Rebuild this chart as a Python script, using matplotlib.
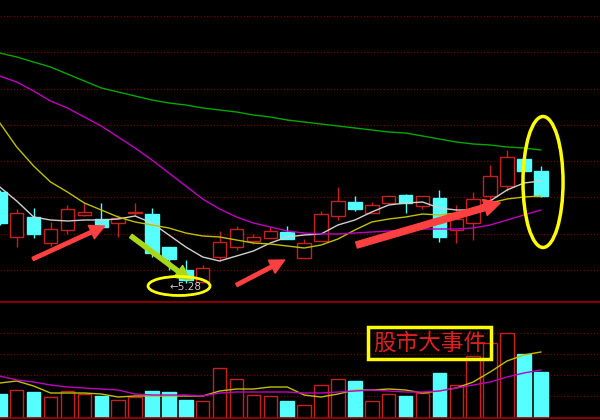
import numpy as np
import matplotlib.pyplot as plt
from matplotlib.patches import Ellipse

# daily K-line, 33 sessions
opens = [5.735, 5.51, 5.61, 5.48, 5.545, 5.62, 5.60, 5.58, 5.63, 5.625, 5.46,
         5.345, 5.285, 5.41, 5.46, 5.49, 5.505, 5.535, 5.405, 5.49, 5.615, 5.685,
         5.63, 5.68, 5.72, 5.665, 5.705, 5.545, 5.58, 5.715, 5.765, 5.90, 5.84]
closes = [5.58, 5.63, 5.525, 5.55, 5.65, 5.635, 5.56, 5.605, 5.635, 5.43, 5.40,
          5.295, 5.355, 5.485, 5.55, 5.51, 5.54, 5.50, 5.48, 5.625, 5.69, 5.65,
          5.67, 5.715, 5.68, 5.715, 5.51, 5.60, 5.70, 5.815, 5.91, 5.84, 5.715]
highs = [5.745, 5.65, 5.655, 5.585, 5.67, 5.68, 5.68, 5.62, 5.68, 5.655, 5.46,
         5.395, 5.37, 5.54, 5.565, 5.525, 5.56, 5.565, 5.50, 5.64, 5.76, 5.715,
         5.685, 5.72, 5.725, 5.715, 5.745, 5.67, 5.735, 5.87, 5.945, 5.90, 5.865]
lows = [5.57, 5.46, 5.505, 5.465, 5.525, 5.615, 5.56, 5.51, 5.615, 5.41, 5.345,
        5.28, 5.285, 5.39, 5.445, 5.475, 5.505, 5.50, 5.405, 5.49, 5.595, 5.64,
        5.63, 5.68, 5.63, 5.65, 5.485, 5.48, 5.495, 5.685, 5.74, 5.84, 5.71]

ma5 = [5.76, 5.69, 5.61, 5.595, 5.59, 5.595, 5.595, 5.60, 5.615, 5.58, 5.52,
       5.46, 5.41, 5.39, 5.415, 5.44, 5.48, 5.51, 5.52, 5.525, 5.57, 5.595,
       5.635, 5.67, 5.68, 5.685, 5.655, 5.645, 5.645, 5.69, 5.745, 5.78, 5.79]
ma10 = [6.08, 5.96, 5.865, 5.785, 5.735, 5.68, 5.645, 5.61, 5.585, 5.57, 5.555,
        5.53, 5.515, 5.51, 5.495, 5.48, 5.475, 5.465, 5.455, 5.47, 5.50, 5.545,
        5.585, 5.60, 5.61, 5.625, 5.62, 5.63, 5.65, 5.68, 5.70, 5.71, 5.715]
ma20 = [6.315, 6.285, 6.24, 6.19, 6.155, 6.11, 6.065, 6.01, 5.955, 5.895, 5.83,
        5.765, 5.70, 5.65, 5.61, 5.58, 5.56, 5.54, 5.53, 5.525, 5.525, 5.53,
        5.535, 5.54, 5.545, 5.55, 5.55, 5.55, 5.555, 5.57, 5.595, 5.62, 5.645]
ma60 = [6.43, 6.41, 6.385, 6.36, 6.325, 6.29, 6.255, 6.235, 6.215, 6.195, 6.18,
        6.17, 6.155, 6.145, 6.135, 6.12, 6.11, 6.095, 6.085, 6.075, 6.065, 6.055,
        6.045, 6.035, 6.03, 6.015, 6.00, 5.985, 5.975, 5.97, 5.96, 5.955, 5.945]

volume = [24, 28, 26, 21, 27, 24, 22, 18, 21, 27, 26, 18, 17, 50, 39, 23, 22,
          17, 13, 33, 39, 37, 17, 24, 22, 25, 45, 33, 62, 75, 85, 64, 46]
vol_ma5 = [35, 37, 32, 25, 25, 25, 24, 21, 22, 22, 22, 22, 22, 27, 29, 29, 31,
           31, 23, 21, 24, 28, 28, 29, 28, 25, 27, 30, 36, 46, 57, 63, 66]
vol_ma10 = [42, 38, 36, 33, 31, 30, 29, 28, 24, 23, 23, 23, 22, 25, 26, 26, 26,
            26, 25, 25, 26, 27, 28, 27, 26, 26, 27, 30, 33, 36, 41, 45, 48]

low_label = "←5.28"
note = "股市大事件"

RED = "#c82020"
CYAN = "#55ffff"
GRID = "#800000"

x = np.arange(len(opens))
o = np.array(opens); c = np.array(closes)
up = c >= o
col = np.where(up, RED, CYAN)

fig = plt.figure(figsize=(6, 4.2), dpi=100, facecolor="black")
ax = fig.add_axes([0, 1 - 302 / 420, 1, 302 / 420], facecolor="black")
axv = fig.add_axes([0, 2 / 420, 1, 116 / 420], facecolor="black")

for a in (ax, axv):
    a.set_xlim(0.01, 35.5)
    a.set_xticks([])
    a.set_yticks([])
    for s in a.spines.values():
        s.set_visible(False)

# price panel
ax.set_ylim(5.185, 6.695)
for lv in 5.345 + 0.1815 * np.arange(8):
    ax.axhline(lv, color=GRID, lw=0.8, ls=(0, (1, 2)), zorder=0)

ax.vlines(x, lows, highs, colors=col, lw=1, zorder=2)
bottoms = np.minimum(o, c)
heights = np.maximum(np.abs(c - o), 0.004)
ax.bar(x, heights, 0.8, bottom=bottoms,
       color=np.where(up, "black", CYAN), edgecolor=col, lw=1, zorder=3)

ax.plot(x, ma5, color="#d0d0d0", lw=1, zorder=4)
ax.plot(x, ma10, color="#c0c000", lw=1, zorder=4)
ax.plot(x, ma20, color="#c000c0", lw=1, zorder=4)
ax.plot(x, ma60, color="#00a800", lw=1, zorder=4)

ax.text(10.05, 5.262, low_label, color="#c8c8c8", fontsize=7.5,
        ha="left", va="center", zorder=5)


def arrow(a, tail, tip, color, tw, hw, hl):
    a.annotate("", xy=tip, xytext=tail, zorder=6,
               arrowprops=dict(arrowstyle=f"simple,head_width={hw},head_length={hl},tail_width={tw}",
                               color=color, shrinkA=0, shrinkB=0, mutation_scale=10))


arrow(ax, (1.95, 5.40), (6.2, 5.565), "#ff4040", 0.25, 1.05, 1.05)
arrow(ax, (14.0, 5.27), (16.85, 5.395), "#ff4040", 0.25, 1.05, 1.05)
arrow(ax, (21.1, 5.47), (29.6, 5.68), "#ff4040", 0.45, 1.2, 1.15)
arrow(ax, (7.75, 5.515), (11.25, 5.295), "#a8d818", 0.3, 1.05, 1.05)

ax.add_patch(Ellipse((10.6, 5.265), 3.67, 0.095, fill=False,
                     edgecolor="#ffff00", lw=2, zorder=6))
ax.add_patch(Ellipse((32.13, 5.785), 2.37, 0.655, fill=False,
                     edgecolor="#ffff00", lw=2.5, zorder=6))

# volume panel
axv.set_ylim(0, 116)
for lv in [22, 43, 64, 85]:
    axv.axhline(lv, color=GRID, lw=0.8, ls=(0, (1, 2)), zorder=0)
axv.spines["top"].set_visible(True)
axv.spines["bottom"].set_visible(True)
axv.spines["top"].set_color("#a00000")
axv.spines["bottom"].set_color("#a00000")
axv.spines["top"].set_linewidth(1.2)
axv.spines["bottom"].set_linewidth(1.2)

axv.bar(x, volume, 0.8, color=np.where(up, "black", CYAN), edgecolor=col,
        lw=1, zorder=2)
axv.plot(x, vol_ma5, color="#c0c000", lw=1, zorder=3)
axv.plot(x, vol_ma10, color="#c000c0", lw=1, zorder=3)

axv.text(25.44, 75, note, family=["Noto Sans CJK SC"], color="#e02020",
         fontsize=16.3, fontweight="light", ha="center", va="center", zorder=5,
         bbox=dict(boxstyle="square,pad=0.22", fc="none", ec="#ffff00", lw=2.5))

fig.savefig("out.png", dpi=100, facecolor="black")
